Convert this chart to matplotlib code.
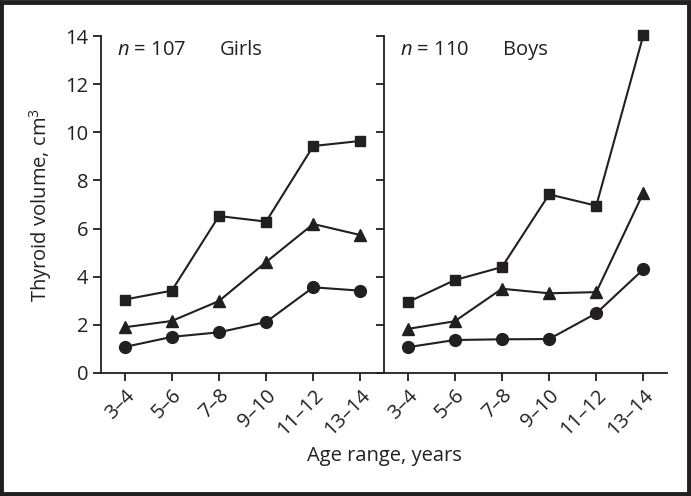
import matplotlib
matplotlib.use("Agg")
import matplotlib.pyplot as plt
from matplotlib.patches import Rectangle

plt.rcParams['font.family'] = ['Open Sans', 'DejaVu Sans']
plt.rcParams['mathtext.fontset'] = 'custom'
plt.rcParams['mathtext.rm'] = 'Open Sans'
plt.rcParams['mathtext.it'] = 'Open Sans:italic'

ages = ['3–4', '5–6', '7–8', '9–10', '11–12', '13–14']

girls_square = [3.05, 3.42, 6.52, 6.29, 9.43, 9.64]
girls_triangle = [1.90, 2.16, 2.99, 4.61, 6.19, 5.73]
girls_circle = [1.08, 1.50, 1.69, 2.12, 3.56, 3.42]

boys_square = [2.94, 3.86, 4.40, 7.42, 6.95, 14.05]
boys_triangle = [1.83, 2.15, 3.50, 3.31, 3.36, 7.49]
boys_circle = [1.07, 1.37, 1.40, 1.41, 2.48, 4.31]

panels = [
    ('$n$ = 107', 'Girls', girls_square, girls_triangle, girls_circle),
    ('$n$ = 110', 'Boys', boys_square, boys_triangle, boys_circle),
]

fig = plt.figure(figsize=(6.91, 4.96), dpi=100)
ink = '#231f20'
fs = 14.5

left, right, bottom, top = 0.1462, 0.9653, 0.248, 0.9274
w = (right - left) / 2
axes = [fig.add_axes([left, bottom, w, top - bottom]),
        fig.add_axes([left + w, bottom, w, top - bottom])]

x = list(range(len(ages)))
for ax, (ntxt, title, sq, tri, circ) in zip(axes, panels):
    ax.plot(x, sq, '-s', color=ink, lw=1.5, ms=7.5, mec=ink, mfc=ink, clip_on=False)
    ax.plot(x, tri, '-^', color=ink, lw=1.5, ms=8, mec=ink, mfc=ink, clip_on=False)
    ax.plot(x, circ, '-o', color=ink, lw=1.5, ms=8.5, mec=ink, mfc=ink, clip_on=False)
    ax.set_xlim(-0.5, 5.5)
    ax.set_ylim(0, 14)
    ax.set_yticks(range(0, 15, 2))
    ax.set_xticks(x)
    ax.set_xticklabels(ages, rotation=45, ha='right', va='top',
                       rotation_mode='anchor')
    ax.spines['top'].set_visible(False)
    ax.spines['right'].set_visible(False)
    for s in ('left', 'bottom'):
        ax.spines[s].set_linewidth(1.3)
        ax.spines[s].set_color(ink)
    ax.tick_params(direction='out', length=6, width=1.3, color=ink,
                   labelsize=fs, labelcolor=ink, pad=3)
    ax.patch.set_alpha(0)
    ax.text(0.055, 0.988, ntxt, transform=ax.transAxes, fontsize=fs,
            color=ink, va='top', ha='left')
    ax.text(0.42, 0.988, title, transform=ax.transAxes, fontsize=fs,
            color=ink, va='top', ha='left')

axes[1].tick_params(axis='y', labelleft=False)
axes[0].set_ylabel('Thyroid volume, cm$^3$', fontsize=fs, color=ink,
                   labelpad=8)
fig.text(0.556, 0.08, 'Age range, years', fontsize=fs, color=ink,
         ha='center', va='center')

fig.patches.append(Rectangle((0.002, 0.004), 0.995, 0.992,
                             transform=fig.transFigure, fill=False,
                             edgecolor=ink, lw=3.5))

fig.savefig('out.png', dpi=100)
